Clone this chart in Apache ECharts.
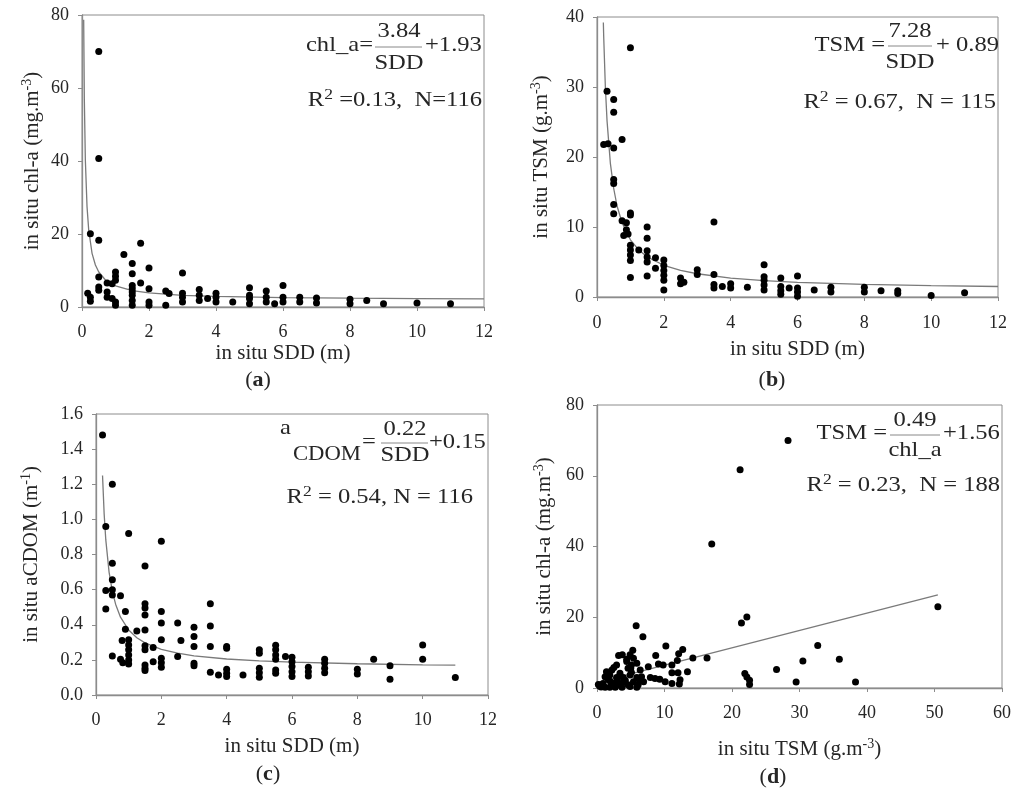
<!DOCTYPE html>
<html><head><meta charset="utf-8">
<script src="https://cdn.jsdelivr.net/npm/echarts@6/dist/echarts.min.js"></script>
<style>html,body{margin:0;padding:0;background:#fff}#c{width:1024px;height:802px}</style>
</head><body><div id="c"></div>
<script>
// ---------- DATA ----------
// (a) in situ SDD vs chl-a
const sddA = [0.5,0.5,0.25,0.5,1.75,1.25,1.5,1.5,2,3,0.5,1,1,1,0.75,0.9,1.75,1.5,1.5,1.5,1.5,1.5,1.5,0.5,0.5,0.17,0.25,0.25,0.75,0.75,0.9,1,1,2,2,2,2.5,2.6,2.5,3,3,3,3.5,3.5,3.5,3.75,4,4,4,4.5,5,5,5,5,5.5,5.5,5.5,5.75,6,6,6,6.5,6.5,7,7,8,8,8.5,9,10,11];
const chlA = [70,40.7,20.1,18.3,17.5,14.4,11.9,9.1,10.7,9.3,8.2,9.6,8.4,7.3,6.6,6.4,6.6,5.9,5.0,4.1,3.2,1.8,0.5,5.5,4.6,3.8,2.7,1.6,4.1,2.7,2.3,1.4,0.5,5.0,1.4,0.5,4.4,3.7,0.5,3.8,2.7,1.4,4.8,3.2,1.8,2.3,3.8,2.7,1.4,1.4,5.3,3.2,2.3,0.9,4.4,2.7,1.4,0.9,5.9,2.7,1.4,2.7,1.4,2.5,1.1,2.1,0.9,1.8,0.9,1.1,0.9];
const fitAx = [0.05,0.07,0.1,0.15,0.2,0.3,0.4,0.5,0.7,1,1.5,2,3,4,6,8,10,12];
const fitAy = [78.7,56.8,40.3,27.5,21.1,14.7,11.5,9.6,7.4,5.8,4.5,3.85,3.21,2.89,2.57,2.41,2.31,2.25];

// (b) in situ SDD vs TSM
const sddB = [1,0.3,0.5,0.5,0.2,0.33,0.5,0.75,0.5,0.5,0.5,0.5,1,1,0.75,0.88,0.88,0.93,0.8,1,1,1,1,1,1.25,1.5,1.5,1.5,1.5,1.5,1.5,1.75,1.75,2,2,2,2,2,2,2.5,2.5,2.6,3,3,3.5,3.5,3.5,3.5,3.75,4,4,4.5,5,5,5,5,5,5.5,5.5,5.5,5.5,5.75,6,6,6,6,6.5,7,7,8,8,8.5,9,9,10,11];
const tsmB = [35.6,29.4,28.2,26.4,21.8,21.9,21.3,22.5,16.8,16.2,13.2,11.9,12.0,11.7,10.9,10.6,9.6,9.0,8.8,7.4,6.7,6.0,5.2,2.8,6.7,10.0,8.4,6.6,5.7,5.0,3.0,5.6,4.1,5.3,4.5,3.8,3.1,2.4,1.0,2.7,1.9,2.1,3.9,3.2,10.7,3.2,1.8,1.3,1.5,1.9,1.3,1.4,4.6,2.9,2.4,1.7,1.0,2.7,1.5,0.9,0.4,1.3,3.0,1.3,0.7,0.1,1.0,1.4,0.7,1.4,0.7,0.9,0.9,0.5,0.2,0.6];
const fitBx = [0.19,0.2,0.25,0.3,0.4,0.5,0.6,0.75,1,1.25,1.5,2,2.5,3,4,5,6,8,10,12];
const fitBy = [39.2,37.3,30.0,25.2,19.1,15.5,13.0,10.6,8.17,6.71,5.74,4.53,3.80,3.32,2.71,2.35,2.10,1.80,1.62,1.50];

// (c) in situ SDD vs aCDOM
const sddC = [0.2,0.5,0.3,1,2,0.5,1.5,0.5,0.3,0.5,0.5,0.75,0.3,0.9,1.5,1.5,1.5,2,3.5,0.9,1.25,1.5,2,2.5,3,3,3.5,2.6,2,0.8,1,1,1,1,1,1,0.75,0.82,0.5,1.5,1.5,1.5,1.5,1.5,1.75,1.75,2,2,2,2.5,3,3,3,3.5,3.5,3.75,4,4,4,4,4,4.5,5,5,5,5,5,5.5,5.5,5.5,5.5,5.5,5.5,5.8,6,6,6,6,6,6.5,6.5,6.5,7,7,7,7,8,8,8.5,9,9,10,10,11];
const cdomC = [1.48,1.20,0.96,0.92,0.875,0.75,0.735,0.656,0.595,0.60,0.57,0.565,0.49,0.475,0.52,0.495,0.456,0.475,0.52,0.375,0.365,0.37,0.41,0.41,0.386,0.333,0.393,0.31,0.314,0.31,0.314,0.285,0.257,0.228,0.20,0.177,0.203,0.184,0.222,0.28,0.257,0.171,0.152,0.139,0.27,0.19,0.209,0.184,0.158,0.219,0.276,0.181,0.167,0.276,0.129,0.114,0.276,0.266,0.146,0.124,0.105,0.114,0.257,0.238,0.152,0.127,0.101,0.283,0.257,0.228,0.203,0.143,0.124,0.219,0.215,0.19,0.162,0.133,0.105,0.158,0.133,0.108,0.203,0.181,0.152,0.127,0.146,0.12,0.203,0.167,0.089,0.285,0.203,0.10];
const fitCx = [0.2,0.25,0.3,0.4,0.5,0.6,0.75,1,1.25,1.5,2,2.5,3,4,5,6,8,10,11];
const fitCy = [1.25,1.03,0.883,0.70,0.59,0.517,0.443,0.37,0.326,0.297,0.26,0.238,0.223,0.205,0.194,0.187,0.178,0.172,0.17];

// (d) in situ TSM vs chl-a
const tsmD = [28.3,21.2,17.0,50.5,21.4,22.2,5.8,6.8,10.2,12.7,12.1,5.3,8.7,14.2,16.3,32.7,30.5,35.9,26.6,21.9,22.2,22.6,22.6,29.5,38.3,3.75,4.9,2.9,4.4,5.1,5.9,7.6,9.1,9.8,11.1,11.9,13.4,11.1,12.0,1.4,2.2,3.4,6.4,7.9,8.6,9.3,10.1,11.1,12.2,12.3,0.4,0.9,1.7,2.4,3.2,3.9,4.6,5.4,6.1,6.9,1.2,1.9,2.7,3.7,4.9,5.9,1.2,1.9,2.9,3.9,4.9,5.9,6.6,4.4,5.4,4.6,3.2,2.5,1.6,0.2,0.6,5.1,4.2,2.0,3.0,6.3,5.0];
const chlD = [70,61.7,40.7,23.0,18.4,20.1,17.6,14.5,11.9,10.9,9.7,10.7,9.2,8.5,8.5,12.0,7.6,8.1,5.2,4.1,3.1,2.2,1.0,1.7,1.7,9.4,9.4,6.5,7.5,6.5,7.0,6.0,6.8,6.5,6.5,7.8,4.6,4.3,4.3,4.6,5.1,4.2,5.1,3.0,2.7,2.5,1.8,1.3,1.1,2.3,0.6,1.3,2.3,1.3,0.9,1.8,0.9,1.8,0.9,1.8,0.2,0.2,0.2,0.2,0.4,0.2,3.2,3.7,3.0,3.0,3.7,3.0,3.2,8.1,8.4,5.6,9.2,5.8,3.0,1.0,0.3,4.4,2.1,1.8,2.4,2.3,5.5];
const fitDx = [0.1,50.5];
const fitDy = [1.6,26.3];

// tick settings
const xTicksA = {max:12, interval:2};
const yTicksA = {max:80, interval:20};
const yTicksB = {max:40, interval:10};
const yTicksC = {max:1.6, interval:0.2};
const xTicksD = {max:60, interval:10};
const yTicksD = {max:80, interval:20};

// ---------- CHART ----------
const zip = (a, b) => a.map((v, i) => [v, b[i]]);
const FF = 'Liberation Serif';
const AX = '#8c8c8c';
const TX = '#262626';
const SX = 1.17; // horizontal stretch of the equation text
const supRich = {
  s: {fontFamily: FF, fontSize: 14, lineHeight: 6, verticalAlign: 'top', color: TX}
};

function xAx(g, t, name, nameGap, margin) {
  return {
    gridIndex: g, type: 'value', min: 0, max: t.max, interval: t.interval,
    name: name, nameLocation: 'middle', nameGap: nameGap,
    nameTextStyle: {fontFamily: FF, fontSize: 21, color: TX, lineHeight: 24, rich: supRich},
    axisLine: {show: true, onZero: false, lineStyle: {color: AX, width: 1.3}},
    axisTick: {show: true, length: 4, lineStyle: {color: AX}},
    axisLabel: {fontFamily: FF, fontSize: 18, color: TX, margin: margin},
    splitLine: {show: false}
  };
}
function yAx(g, t, name, nameGap, fmt) {
  return {
    gridIndex: g, type: 'value', min: 0, max: t.max, interval: t.interval,
    name: name, nameLocation: 'middle', nameGap: nameGap, nameRotate: 90,
    nameTextStyle: {fontFamily: FF, fontSize: 21, color: TX, lineHeight: 24, rich: supRich},
    axisLine: {show: true, onZero: false, lineStyle: {color: AX, width: 1.3}},
    axisTick: {show: true, length: 4, lineStyle: {color: AX}},
    axisLabel: {fontFamily: FF, fontSize: 18, color: TX, margin: 13, formatter: fmt},
    splitLine: {show: false}
  };
}
function scat(g, d) {
  return {type: 'scatter', xAxisIndex: g, yAxisIndex: g, data: d, symbolSize: 7,
    itemStyle: {color: '#000', opacity: 1}, silent: true, z: 3};
}
function fit(g, d) {
  return {type: 'line', xAxisIndex: g, yAxisIndex: g, data: d, showSymbol: false, symbol: 'none',
    lineStyle: {color: '#7a7a7a', width: 1.3}, silent: true, z: 2, animation: false};
}

const txt = (text, x, y, align, size, extra, sx) => ({
  type: 'text', x: x, y: y, scaleX: sx || SX, silent: true, z: 10,
  style: Object.assign({text: text, fontFamily: FF, fontSize: size || 21, fill: TX,
    align: align, verticalAlign: 'middle'}, extra || {})
});
const bar = (x1, x2, y) => ({type: 'line', silent: true, z: 10,
  shape: {x1: x1, y1: y, x2: x2, y2: y}, style: {stroke: '#888', lineWidth: 1}});
const rRich = {
  n: {fontFamily: FF, fontSize: 21, color: TX, lineHeight: 24},
  s: {fontFamily: FF, fontSize: 15, color: TX, lineHeight: 6, verticalAlign: 'top'}
};
const pRich = {
  n: {fontFamily: FF, fontSize: 22, color: '#111'},
  b: {fontFamily: FF, fontSize: 22, color: '#111', fontWeight: 'bold'}
};
const rRow = (t, x, y) => txt(t, x, y, 'right', 21, {rich: rRich});
const pLab = (l, x, y) => txt('{n|(}{b|' + l + '}{n|)}', x, y, 'center', 22, {rich: pRich}, 1);

const graphics = [
  // (a)
  txt('chl_a=', 373, 45, 'right'), txt('3.84', 399, 31, 'center'), bar(375, 422, 47),
  txt('SDD', 399, 63, 'center'), txt('+1.93', 425, 45, 'left'),
  rRow('{n|R}{s|2}{n| =0.13,  N=116}', 482, 100),
  pLab('a', 258, 380),
  // (b)
  txt('TSM =', 885, 45, 'right'), txt('7.28', 910, 31, 'center'), bar(888, 932, 46),
  txt('SDD', 910, 62, 'center'), txt('+ 0.89', 936, 45, 'left'),
  rRow('{n|R}{s|2}{n| = 0.67,  N = 115}', 996, 102),
  pLab('b', 772, 380),
  // (c)
  txt('a', 291, 428, 'right'), txt('CDOM', 361, 454, 'right', 21, null, 1.08), txt('=', 369, 442, 'center'),
  txt('0.22', 405, 429, 'center'), bar(381, 428, 443), txt('SDD', 405, 455, 'center'),
  txt('+0.15', 429, 442, 'left'),
  rRow('{n|R}{s|2}{n| = 0.54, N = 116}', 473, 497),
  pLab('c', 268, 774),
  // (d)
  txt('TSM =', 887, 433, 'right'), txt('0.49', 915, 420, 'center'), bar(890, 940, 435),
  txt('chl_a', 915, 450, 'center'), txt('+1.56', 943, 433, 'left'),
  rRow('{n|R}{s|2}{n| = 0.23,  N = 188}', 1000, 485),
  pLab('d', 773, 777)
];

const gridBase = {show: true, borderColor: AX, borderWidth: 1, backgroundColor: 'transparent'};
const option = {
  animation: false,
  backgroundColor: '#fff',
  grid: [
    Object.assign({left: 82, top: 15, width: 402, height: 292}, gridBase),
    Object.assign({left: 597, top: 17, width: 401, height: 280}, gridBase),
    Object.assign({left: 96, top: 414, width: 392, height: 281}, gridBase),
    Object.assign({left: 597, top: 405, width: 405, height: 283}, gridBase)
  ],
  xAxis: [
    xAx(0, xTicksA, 'in situ SDD (m)', 34, 16),
    xAx(1, xTicksA, 'in situ SDD (m)', 40, 17),
    xAx(2, xTicksA, 'in situ SDD (m)', 39, 16),
    xAx(3, xTicksD, 'in situ TSM (g.m{s|-3})', 49, 16)
  ],
  yAxis: [
    yAx(0, yTicksA, 'in situ chl-a (mg.m{s|-3})', 38),
    yAx(1, yTicksB, 'in situ TSM (g.m{s|-3})', 44),
    yAx(2, yTicksC, 'in situ aCDOM (m{s|-1})', 53, v => v.toFixed(1)),
    yAx(3, yTicksD, 'in situ chl-a (mg.m{s|-3})', 41)
  ],
  series: [
    fit(0, zip(fitAx, fitAy)), scat(0, zip(sddA, chlA)),
    fit(1, zip(fitBx, fitBy)), scat(1, zip(sddB, tsmB)),
    fit(2, zip(fitCx, fitCy)), scat(2, zip(sddC, cdomC)),
    fit(3, zip(fitDx, fitDy)), scat(3, zip(tsmD, chlD))
  ],
  graphic: graphics
};
const chart = echarts.init(document.getElementById('c'));
chart.setOption(option);
</script></body></html>
